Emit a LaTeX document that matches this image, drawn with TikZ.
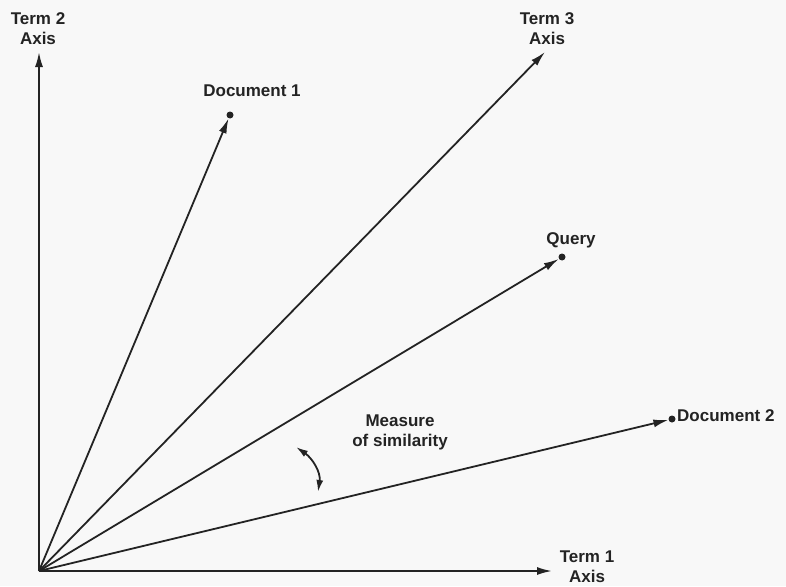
\documentclass[tikz,border=0pt]{standalone}
\usepackage{fontspec}
\setmainfont{Liberation Sans}
\usetikzlibrary{arrows.meta}
\definecolor{ink}{RGB}{35,35,35}
\definecolor{paper}{RGB}{248,248,248}
\tikzset{
  vec/.style={draw=ink, line width=1.8pt, -{Latex[length=15pt,width=8pt]}},
  tipdot/.style={circle, fill=ink, inner sep=0pt, minimum size=7pt},
  lbl/.style={text=ink, font=\bfseries\fontsize{17}{20}\selectfont, align=center, inner sep=0pt},
}
\begin{document}
\begin{tikzpicture}[x=1pt,y=-1pt]
\fill[paper] (0,0) rectangle (786,586);
\useasboundingbox (0,0) rectangle (786,586);
% origin and axis ends
\coordinate (O) at (39,571);
\coordinate (t1) at (552,571);
\coordinate (t2) at (39,52);
\coordinate (t3) at (545,52);
\node[tipdot] (d1) at (230,115) {};
\node[tipdot] (q) at (562,257) {};
\node[tipdot] (d2) at (672,419) {};
% vectors
\draw[vec] (O) -- (t1);
\draw[vec] (O) -- (t2);
\draw[vec] (O) -- (t3);
\draw[vec] (O) -- (d1);
\draw[vec] (O) -- (q);
\draw[vec] (O) -- (d2);
% labels
\node[lbl] (lt2) at (38,29) {Term 2\\Axis};
\node[lbl] (lt3) at (547,29) {Term 3\\Axis};
\node[lbl] (lt1) at (587,567) {Term 1\\Axis};
\node[lbl] (ld1) at (252,91) {Document 1};
\node[lbl] (lq) at (571,240) {Query};
\node[lbl, anchor=west] (ld2) at (677,416) {Document 2};
\node[lbl] (lm) at (400,432) {Measure\\of similarity};
% similarity arrow
\coordinate (ms1) at (296,447);
\coordinate (ms2) at (318,492);
\draw[draw=ink, line width=1.8pt, {Latex[length=12pt,width=7pt]}-{Latex[length=12pt,width=7pt]}] (ms1) .. controls (312,458) and (321,472) .. (ms2);
\end{tikzpicture}
\end{document}
